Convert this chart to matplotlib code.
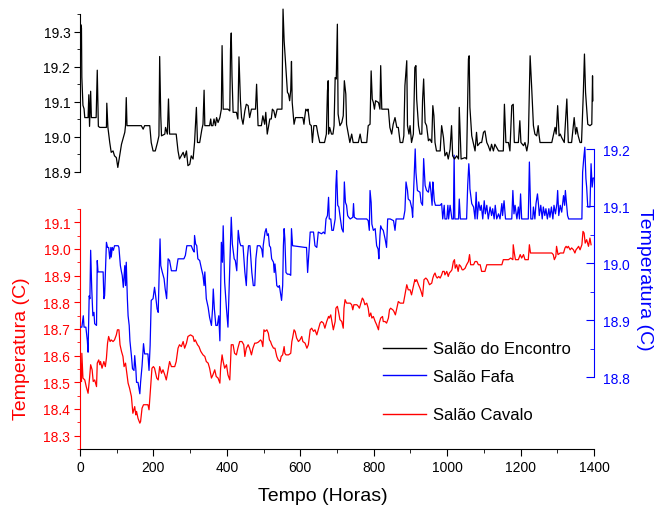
import numpy as np
import matplotlib.pyplot as plt
from matplotlib.lines import Line2D
from matplotlib.ticker import MultipleLocator

plt.rcParams['font.family'] = ['Liberation Sans', 'DejaVu Sans']

# (hora, temperatura) - Salão do Encontro
black_pts = [
    (0, 19.17), (2, 19.32), (4, 19.31), (5, 19.17), (8, 19.09), (11, 19.08), (13, 19.055), (22, 19.055),
    (24, 19.12), (26, 19.03), (29, 19.13), (31, 19.055), (44, 19.055), (47, 19.19), (50, 19.03), (54, 19.027),
    (72, 19.027), (73, 19.096), (76, 19.027), (81, 18.984), (85, 18.956), (90, 18.96), (94, 18.946), (99, 18.941),
    (103, 18.913), (108, 18.946), (113, 18.979), (122, 19.013), (124, 19.032), (126, 19.112), (128, 19.032),
    (167, 19.032), (172, 19.022), (176, 19.032), (190, 19.032), (194, 18.984), (199, 18.96), (205, 18.96),
    (211, 18.984), (215, 19.003), (217, 19.229), (220, 19.06), (222, 19.003), (231, 19.008), (233, 19.027),
    (238, 19.008), (241, 19.108), (244, 19.008), (262, 19.008), (267, 18.96), (271, 18.937), (281, 18.956),
    (285, 18.941), (290, 18.96), (294, 18.918), (299, 18.922), (303, 18.946), (308, 18.937), (312, 18.984),
    (317, 19.084), (320, 18.984), (326, 18.984), (332, 19.022), (335, 19.036), (338, 19.133), (340, 19.032),
    (353, 19.032), (356, 19.051), (358, 19.032), (362, 19.032), (365, 19.051), (369, 19.032), (372, 19.055),
    (376, 19.041), (381, 19.055), (385, 19.079), (387, 19.26), (390, 19.079), (403, 19.079), (408, 19.074),
    (410, 19.25), (412, 19.296), (414, 19.174), (417, 19.07), (426, 19.07), (430, 19.051), (433, 19.228),
    (437, 19.103), (440, 19.055), (444, 19.036), (449, 19.074), (453, 19.093), (458, 19.089), (462, 19.055),
    (467, 19.079), (478, 19.079), (481, 19.15), (485, 19.032), (494, 19.032), (498, 19.06), (503, 19.036),
    (506, 19.07), (510, 19.008), (517, 19.051), (521, 19.051), (524, 19.079), (528, 19.074), (532, 19.055),
    (537, 19.079), (550, 19.079), (553, 19.364), (556, 19.274), (559, 19.226), (562, 19.174), (565, 19.127),
    (568, 19.122), (571, 19.103), (574, 19.133), (576, 19.215), (578, 19.098), (583, 19.036), (587, 19.055),
    (607, 19.055), (610, 19.036), (612, 19.055), (615, 19.079), (619, 19.074), (621, 19.079), (626, 19.036),
    (630, 19.032), (633, 18.984), (637, 19.032), (644, 19.032), (648, 19.008), (653, 18.984), (666, 18.984),
    (671, 19.008), (674, 19.131), (676, 19.16), (677, 19.008), (680, 19.027), (685, 19.008), (689, 19.008),
    (692, 19.032), (695, 19.169), (698, 19.165), (701, 19.321), (703, 19.065), (708, 19.032), (713, 19.041),
    (717, 19.06), (720, 19.16), (724, 19.122), (726, 19.036), (731, 19.008), (735, 18.984), (740, 19.008),
    (744, 18.984), (758, 18.984), (763, 19.008), (767, 18.984), (781, 18.984), (785, 19.032), (790, 19.036),
    (793, 19.188), (796, 19.108), (799, 19.098), (802, 19.079), (805, 19.103), (813, 19.098), (817, 19.079),
    (819, 19.203), (822, 19.079), (840, 19.079), (844, 19.027), (849, 19.008), (853, 19.036), (858, 19.055),
    (863, 19.027), (867, 19.027), (872, 18.984), (879, 18.984), (882, 19.003), (885, 19.146), (890, 19.217),
    (892, 19.032), (896, 19.008), (899, 19.032), (903, 18.984), (908, 19.008), (912, 19.198), (915, 19.203),
    (917, 19.108), (922, 19.032), (926, 19.008), (931, 19.008), (933, 19.103), (936, 19.165), (940, 19.041),
    (944, 19.032), (949, 18.989), (953, 18.994), (958, 18.984), (961, 19.089), (964, 19.06), (967, 18.984),
    (971, 18.96), (981, 18.96), (985, 19.032), (990, 18.998), (994, 18.946), (999, 18.956), (1003, 18.937),
    (1008, 18.965), (1012, 19.032), (1015, 18.946), (1020, 18.937), (1026, 18.946), (1031, 18.937),
    (1033, 19.084), (1038, 18.937), (1049, 18.941), (1053, 18.937), (1058, 19.222), (1060, 19.231),
    (1062, 19.084), (1067, 19.003), (1076, 18.96), (1080, 19.013), (1083, 18.975), (1090, 18.984),
    (1094, 18.984), (1099, 19.013), (1103, 19.017), (1108, 18.984), (1112, 18.975), (1117, 18.96),
    (1121, 18.979), (1126, 18.96), (1130, 18.979), (1140, 18.96), (1153, 18.96), (1156, 19.093), (1160, 18.984),
    (1167, 18.984), (1171, 18.96), (1176, 19.089), (1180, 19.093), (1183, 18.984), (1194, 18.984),
    (1198, 19.046), (1201, 18.984), (1208, 18.975), (1212, 18.984), (1217, 18.96), (1221, 18.984),
    (1226, 19.231), (1230, 19.146), (1235, 19.032), (1239, 19.008), (1244, 19.003), (1248, 19.032),
    (1250, 19.008), (1253, 18.984), (1285, 18.984), (1289, 19.003), (1294, 19.027), (1297, 19.008),
    (1301, 19.089), (1305, 19.003), (1308, 19.008), (1312, 18.998), (1319, 18.984), (1326, 19.108),
    (1330, 18.984), (1339, 18.984), (1346, 19.055), (1350, 19.008), (1353, 19.027), (1357, 19.003),
    (1362, 18.984), (1366, 18.984), (1371, 19.127), (1374, 19.236), (1377, 19.127), (1383, 19.036),
    (1389, 19.032), (1394, 19.036), (1396, 19.174), (1397, 19.103),
]

# (hora, temperatura) - Salão Fafa
blue_pts = [
    (0, 18.888), (5, 18.888), (9, 18.908), (11, 18.888), (16, 18.888), (20, 18.864), (22, 18.844), (25, 18.943),
    (27, 18.938), (29, 19.023), (32, 18.955), (35, 18.908), (38, 18.914), (40, 18.894), (45, 18.891),
    (47, 19.005), (49, 18.985), (63, 18.985), (65, 18.938), (67, 18.943), (72, 19.037), (75, 19.028),
    (78, 19.028), (81, 19.008), (84, 19.028), (85, 19.011), (88, 19.028), (91, 19.023), (94, 19.031),
    (104, 19.031), (106, 19.028), (110, 18.996), (113, 18.985), (115, 18.979), (118, 18.958), (122, 18.996),
    (124, 18.961), (126, 19.002), (129, 18.938), (131, 18.908), (134, 18.891), (136, 18.864), (140, 18.838),
    (143, 18.815), (147, 18.812), (149, 18.838), (152, 18.815), (154, 18.791), (158, 18.791), (163, 18.771),
    (165, 18.791), (169, 18.82), (173, 18.859), (176, 18.841), (185, 18.841), (188, 18.812), (191, 18.856),
    (194, 18.935), (199, 18.938), (203, 18.958), (206, 18.943), (210, 18.92), (213, 18.914), (215, 18.967),
    (218, 19.043), (220, 18.996), (224, 18.985), (229, 18.973), (232, 18.955), (236, 18.938), (240, 19.008),
    (244, 19.005), (249, 18.987), (262, 18.987), (267, 19.008), (283, 19.008), (287, 19.014), (291, 19.031),
    (303, 19.031), (308, 19.023), (311, 19.02), (312, 19.049), (315, 19.034), (318, 19.031), (321, 19.008),
    (326, 19.005), (331, 18.99), (335, 18.979), (338, 18.961), (340, 18.985), (344, 18.938), (349, 18.923),
    (353, 18.905), (358, 18.891), (361, 18.92), (363, 18.955), (366, 18.92), (370, 18.891), (374, 18.891),
    (378, 18.908), (381, 18.864), (385, 19.037), (388, 19.002), (390, 19.066), (394, 18.967), (399, 18.92),
    (403, 18.888), (408, 18.996), (412, 19.081), (415, 19.034), (420, 19.008), (423, 19.005), (427, 18.987),
    (431, 19.058), (435, 19.037), (438, 19.031), (444, 19.031), (449, 18.985), (453, 18.961), (456, 19.011),
    (459, 19.031), (463, 19.031), (468, 18.984), (472, 18.961), (476, 18.961), (479, 19.008), (483, 19.031),
    (490, 19.031), (495, 19.025), (498, 19.011), (499, 19.031), (504, 19.055), (507, 19.061), (510, 19.049),
    (513, 19.052), (516, 19.031), (519, 19.028), (522, 19.008), (527, 19.002), (529, 18.984), (531, 18.999),
    (534, 18.979), (536, 18.961), (540, 18.958), (543, 18.961), (547, 18.943), (549, 18.935), (552, 18.961),
    (554, 19.031), (556, 19.061), (558, 19.043), (561, 18.984), (565, 18.981), (570, 18.981), (574, 18.979),
    (576, 19.061), (579, 19.031), (613, 19.028), (617, 19.028), (620, 18.984), (623, 19.014), (627, 19.055),
    (636, 19.055), (640, 19.031), (645, 19.028), (649, 19.055), (658, 19.052), (663, 19.055), (667, 19.052),
    (670, 19.078), (674, 19.084), (677, 19.116), (679, 19.078), (683, 19.078), (686, 19.058), (690, 19.058),
    (695, 19.078), (697, 19.137), (699, 19.163), (702, 19.102), (705, 19.099), (708, 19.084), (713, 19.061),
    (717, 19.055), (720, 19.143), (723, 19.107), (726, 19.102), (729, 19.084), (732, 19.081), (736, 19.078),
    (743, 19.081), (745, 19.105), (747, 19.081), (754, 19.078), (781, 19.078), (785, 19.075), (788, 19.058),
    (790, 19.128), (793, 19.107), (795, 19.069), (799, 19.058), (804, 19.061), (808, 19.031), (812, 19.025),
    (814, 19.008), (817, 19.049), (819, 19.066), (822, 19.061), (826, 19.058), (831, 19.043), (835, 19.028),
    (838, 19.078), (845, 19.078), (854, 19.075), (858, 19.058), (861, 19.078), (881, 19.078), (885, 19.093),
    (888, 19.143), (892, 19.128), (894, 19.113), (899, 19.11), (904, 19.096), (906, 19.081), (910, 19.149),
    (913, 19.201), (915, 19.16), (919, 19.128), (926, 19.125), (929, 19.107), (933, 19.102), (936, 19.184),
    (940, 19.137), (944, 19.128), (949, 19.125), (953, 19.143), (956, 19.125), (959, 19.102), (961, 19.143),
    (963, 19.128), (965, 19.11), (968, 19.102), (981, 19.102), (985, 19.105), (988, 19.078), (992, 19.102),
    (994, 19.078), (999, 19.078), (1002, 19.102), (1004, 19.078), (1008, 19.102), (1013, 19.078),
    (1017, 19.078), (1019, 19.19), (1021, 19.078), (1031, 19.078), (1033, 19.113), (1036, 19.078),
    (1053, 19.078), (1056, 19.137), (1059, 19.175), (1061, 19.154), (1062, 19.131), (1067, 19.105),
    (1072, 19.099), (1076, 19.078), (1079, 19.125), (1082, 19.078), (1086, 19.108), (1090, 19.093),
    (1093, 19.102), (1097, 19.078), (1101, 19.11), (1104, 19.087), (1108, 19.102), (1112, 19.078),
    (1117, 19.099), (1121, 19.084), (1124, 19.096), (1128, 19.078), (1131, 19.102), (1135, 19.078),
    (1140, 19.087), (1144, 19.078), (1149, 19.105), (1151, 19.084), (1155, 19.11), (1159, 19.078),
    (1176, 19.078), (1179, 19.128), (1182, 19.087), (1185, 19.102), (1190, 19.078), (1194, 19.099),
    (1197, 19.078), (1200, 19.122), (1203, 19.078), (1221, 19.078), (1224, 19.178), (1228, 19.078),
    (1233, 19.078), (1235, 19.099), (1239, 19.078), (1242, 19.105), (1246, 19.122), (1249, 19.102),
    (1251, 19.084), (1255, 19.102), (1259, 19.078), (1262, 19.099), (1266, 19.084), (1269, 19.096),
    (1273, 19.078), (1277, 19.096), (1280, 19.081), (1284, 19.099), (1288, 19.078), (1291, 19.102),
    (1295, 19.087), (1299, 19.105), (1301, 19.128), (1304, 19.084), (1308, 19.102), (1312, 19.09),
    (1317, 19.119), (1320, 19.102), (1322, 19.128), (1326, 19.099), (1328, 19.084), (1331, 19.078),
    (1367, 19.078), (1369, 19.16), (1372, 19.184), (1375, 19.204), (1378, 19.149), (1380, 19.134),
    (1383, 19.099), (1389, 19.099), (1392, 19.175), (1395, 19.134), (1398, 19.15),
]

# (hora, temperatura) - Salão Cavalo
red_pts = [
    (0, 18.603), (2, 18.547), (4, 18.503), (5, 18.609), (8, 18.516), (13, 18.509), (17, 18.484), (22, 18.459),
    (26, 18.516), (29, 18.566), (33, 18.547), (36, 18.503), (40, 18.509), (45, 18.484), (47, 18.572),
    (51, 18.584), (54, 18.566), (56, 18.578), (60, 18.553), (65, 18.578), (69, 18.559), (72, 18.591),
    (75, 18.647), (78, 18.672), (82, 18.653), (85, 18.659), (90, 18.653), (94, 18.659), (99, 18.678),
    (102, 18.697), (106, 18.697), (109, 18.641), (113, 18.616), (117, 18.597), (120, 18.559), (124, 18.572),
    (127, 18.541), (131, 18.497), (135, 18.478), (140, 18.447), (144, 18.384), (149, 18.409), (152, 18.378),
    (154, 18.391), (158, 18.365), (163, 18.347), (165, 18.353), (169, 18.403), (173, 18.416), (185, 18.416),
    (188, 18.397), (192, 18.478), (196, 18.553), (200, 18.559), (203, 18.553), (209, 18.516), (213, 18.509),
    (217, 18.559), (222, 18.534), (226, 18.547), (231, 18.528), (235, 18.509), (240, 18.547), (244, 18.578),
    (249, 18.559), (258, 18.559), (262, 18.578), (267, 18.628), (271, 18.641), (276, 18.634), (281, 18.653),
    (285, 18.628), (290, 18.647), (294, 18.672), (301, 18.678), (308, 18.672), (311, 18.653), (314, 18.659),
    (320, 18.641), (324, 18.634), (329, 18.616), (335, 18.603), (340, 18.597), (344, 18.578), (349, 18.572),
    (353, 18.553), (358, 18.516), (362, 18.528), (367, 18.547), (371, 18.522), (376, 18.516), (381, 18.497),
    (383, 18.553), (387, 18.603), (390, 18.578), (394, 18.553), (399, 18.566), (403, 18.528), (408, 18.509),
    (412, 18.641), (417, 18.641), (421, 18.609), (426, 18.603), (430, 18.628), (435, 18.653), (441, 18.653),
    (446, 18.641), (449, 18.597), (453, 18.628), (458, 18.641), (462, 18.628), (467, 18.603), (471, 18.628),
    (476, 18.647), (480, 18.647), (485, 18.65), (492, 18.659), (495, 18.653), (498, 18.634), (501, 18.697),
    (504, 18.691), (509, 18.697), (513, 18.684), (516, 18.659), (519, 18.653), (522, 18.641), (527, 18.628),
    (531, 18.628), (536, 18.597), (540, 18.584), (545, 18.578), (548, 18.597), (552, 18.603), (556, 18.634),
    (558, 18.609), (561, 18.603), (568, 18.603), (574, 18.609), (577, 18.653), (579, 18.666), (583, 18.697),
    (586, 18.691), (590, 18.666), (595, 18.653), (599, 18.659), (604, 18.672), (607, 18.653), (613, 18.647),
    (618, 18.628), (622, 18.641), (627, 18.697), (631, 18.703), (636, 18.691), (640, 18.697), (645, 18.678),
    (649, 18.697), (654, 18.722), (658, 18.728), (663, 18.722), (667, 18.703), (672, 18.728), (677, 18.747),
    (679, 18.741), (683, 18.753), (687, 18.722), (690, 18.697), (695, 18.728), (697, 18.778), (701, 18.785),
    (704, 18.766), (708, 18.735), (713, 18.728), (717, 18.703), (719, 18.778), (722, 18.81), (726, 18.797),
    (736, 18.797), (740, 18.791), (743, 18.772), (746, 18.791), (754, 18.791), (758, 18.785), (761, 18.778),
    (765, 18.797), (769, 18.816), (772, 18.81), (776, 18.791), (781, 18.797), (785, 18.778), (788, 18.747),
    (792, 18.76), (795, 18.741), (799, 18.747), (804, 18.728), (808, 18.716), (813, 18.697), (815, 18.722),
    (819, 18.741), (824, 18.747), (826, 18.728), (831, 18.728), (835, 18.722), (840, 18.741), (843, 18.772),
    (846, 18.778), (852, 18.772), (855, 18.766), (859, 18.753), (863, 18.778), (867, 18.803), (872, 18.797),
    (881, 18.797), (885, 18.828), (890, 18.866), (894, 18.847), (899, 18.847), (903, 18.828), (905, 18.841),
    (908, 18.86), (912, 18.885), (914, 18.878), (917, 18.885), (922, 18.866), (926, 18.853), (929, 18.841),
    (933, 18.822), (937, 18.885), (942, 18.891), (946, 18.885), (952, 18.866), (958, 18.872), (961, 18.891),
    (964, 18.903), (967, 18.91), (970, 18.897), (973, 18.891), (977, 18.897), (981, 18.891), (985, 18.903),
    (988, 18.916), (992, 18.916), (994, 18.903), (999, 18.916), (1003, 18.897), (1006, 18.91), (1010, 18.916),
    (1013, 18.922), (1017, 18.953), (1020, 18.96), (1022, 18.928), (1026, 18.941), (1030, 18.916),
    (1033, 18.941), (1037, 18.935), (1041, 18.922), (1044, 18.922), (1049, 18.928), (1053, 18.941),
    (1058, 18.953), (1061, 18.979), (1064, 18.941), (1072, 18.941), (1076, 18.953), (1081, 18.953),
    (1085, 18.941), (1090, 18.941), (1094, 18.916), (1103, 18.916), (1108, 18.941), (1149, 18.941),
    (1153, 18.96), (1167, 18.96), (1173, 18.966), (1179, 18.96), (1180, 19.016), (1183, 18.985), (1186, 18.96),
    (1194, 18.96), (1199, 18.979), (1203, 18.966), (1208, 18.979), (1212, 18.96), (1221, 18.96), (1224, 19.016),
    (1227, 18.985), (1285, 18.985), (1289, 18.979), (1292, 18.96), (1296, 18.972), (1298, 19.01),
    (1302, 18.979), (1308, 18.985), (1317, 18.985), (1321, 19.004), (1324, 19.01), (1327, 19.004),
    (1330, 19.01), (1335, 18.997), (1339, 19.004), (1344, 18.997), (1348, 18.985), (1351, 18.997),
    (1355, 19.004), (1358, 19.01), (1362, 18.997), (1367, 19.016), (1370, 19.066), (1373, 19.06),
    (1376, 19.022), (1380, 19.035), (1385, 19.01), (1389, 19.041), (1392, 19.016),
]

labels = ['Salão do Encontro', 'Salão Fafa', 'Salão Cavalo']
colors = ['black', 'blue', 'red']

W, H = 654, 510
fig = plt.figure(figsize=(W / 100, H / 100), dpi=100)


def box(top, bottom):
    # caixa em pixels (topo/base), mesma faixa horizontal para os três eixos
    return [80 / W, 1 - bottom / H, 514 / W, (bottom - top) / H]


ax_r = fig.add_axes(box(210, 450))
ax_b = fig.add_axes(box(130, 450))
ax_k = fig.add_axes(box(8, 173))
for a in (ax_b, ax_k):
    a.patch.set_visible(False)

for a in (ax_r, ax_b, ax_k):
    a.set_xlim(0, 1400)
    a.spines['top'].set_visible(False)

# eixo do Salão Cavalo (esquerda, vermelho) + eixo x
ax_r.plot(*np.array(red_pts).T, color='red', lw=0.9)
ax_r.set_ylim(18.25, 19.15)
ax_r.spines['right'].set_visible(False)
ax_r.spines['left'].set_color('red')
ax_r.yaxis.set_major_locator(MultipleLocator(0.1))
ax_r.yaxis.set_minor_locator(MultipleLocator(0.05))
ax_r.yaxis.set_major_formatter('{x:.1f}')
ax_r.tick_params(axis='y', which='both', colors='red', labelsize=10, direction='out', pad=3)
ax_r.tick_params(axis='y', which='major', length=4)
ax_r.tick_params(axis='y', which='minor', length=2.5)
ax_r.xaxis.set_major_locator(MultipleLocator(200))
ax_r.xaxis.set_minor_locator(MultipleLocator(100))
ax_r.tick_params(axis='x', which='major', length=5, labelsize=10, pad=3)
ax_r.tick_params(axis='x', which='minor', length=3)

# eixo do Salão Fafa (direita, azul)
ax_b.plot(*np.array(blue_pts).T, color='blue', lw=0.9)
ax_b.set_ylim(18.674, 19.236)
for s in ('left', 'bottom'):
    ax_b.spines[s].set_visible(False)
ax_b.spines['right'].set_color('blue')
ax_b.spines['right'].set_bounds(18.8, 19.2)
ax_b.set_xticks([])
ax_b.yaxis.tick_right()
ax_b.set_yticks([18.8, 18.9, 19.0, 19.1, 19.2])
ax_b.set_yticks([18.85, 18.95, 19.05, 19.15], minor=True)
ax_b.yaxis.set_major_formatter('{x:.1f}')
ax_b.tick_params(axis='y', which='both', colors='blue', labelsize=10, direction='in', pad=6.5)
ax_b.tick_params(axis='y', which='major', length=5.5)
ax_b.tick_params(axis='y', which='minor', length=3)

# eixo do Salão do Encontro (topo, preto)
ax_k.plot(*np.array(black_pts).T, color='black', lw=0.9)
ax_k.set_ylim(18.9, 19.37)
for s in ('right', 'bottom'):
    ax_k.spines[s].set_visible(False)
ax_k.spines['left'].set_bounds(18.9, 19.35)
ax_k.set_xticks([])
ax_k.set_yticks([18.9, 19.0, 19.1, 19.2, 19.3])
ax_k.set_yticks([18.95, 19.05, 19.15, 19.25, 19.35], minor=True)
ax_k.yaxis.set_major_formatter('{x:.1f}')
ax_k.tick_params(axis='y', which='both', labelsize=10, direction='out', pad=3)
ax_k.tick_params(axis='y', which='major', length=4)
ax_k.tick_params(axis='y', which='minor', length=2.5)

# títulos dos eixos
fig.text(323 / W, 1 - 497 / H, 'Tempo (Horas)', ha='center', va='center', fontsize=14)
fig.text(22 / W, 1 - 349 / H, 'Temperatura (C)', ha='center', va='center', rotation=90,
         color='red', fontsize=14)
fig.text(645 / W, 1 - 279 / H, 'Temperatura (C)', ha='center', va='center', rotation=-90,
         color='blue', fontsize=14)

# legenda: uma entrada por sala
for lab, col, ypx in zip(labels, colors, [350, 377, 416]):
    h = Line2D([], [], color=col, lw=1)
    fig.legend([h], [lab], loc='center left', bbox_to_anchor=(383 / W, 1 - ypx / H),
               frameon=False, fontsize=12, handlelength=2.6, handletextpad=0.4,
               borderpad=0, borderaxespad=0)

fig.savefig('out.png', dpi=100)
